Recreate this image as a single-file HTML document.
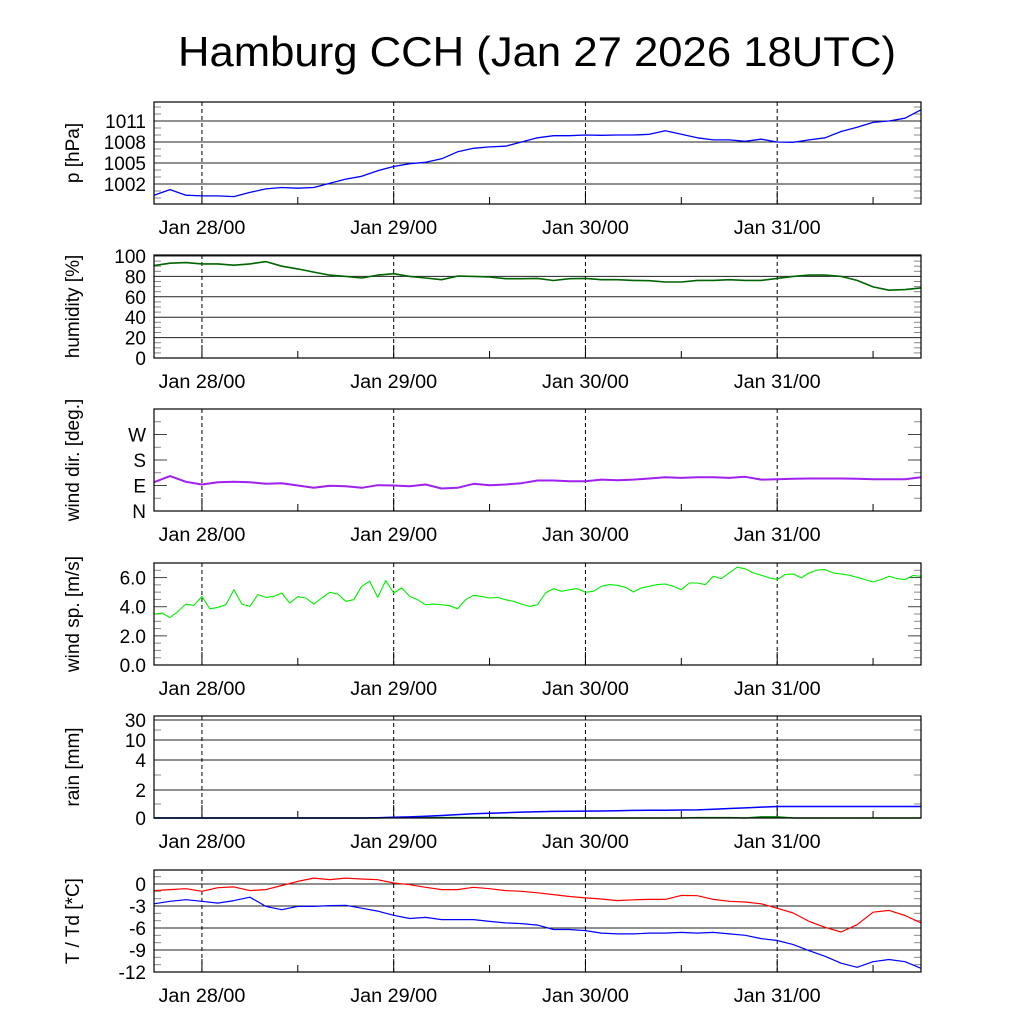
<!DOCTYPE html>
<html><head><meta charset="utf-8"><style>
html,body{margin:0;padding:0;background:#fff;}
svg{display:block;font-family:"Liberation Sans",sans-serif;}
</style></head><body>
<svg id="chart" width="1024" height="1024" viewBox="0 0 1024 1024" xmlns="http://www.w3.org/2000/svg">
<rect width="1024" height="1024" fill="#fff"/>
<text x="537" y="66" font-size="42" text-anchor="middle" textLength="718" lengthAdjust="spacingAndGlyphs">Hamburg CCH (Jan 27 2026 18UTC)</text>
</svg>
<script>
// hours since Jan 27 18UTC; 2-hourly series
const dayLabels = ["Jan 28/00","Jan 29/00","Jan 30/00","Jan 31/00"];
const dayHours = [6,30,54,78];
const pressure = [1000.4,1001.2,1000.4,1000.3,1000.3,1000.2,1000.8,1001.3,1001.5,1001.4,1001.5,1002.1,1002.7,1003.1,1003.9,1004.5,1004.9,1005.1,1005.6,1006.6,1007.1,1007.3,1007.4,1008.0,1008.6,1008.9,1008.9,1009.0,1008.95,1009.0,1009.0,1009.1,1009.6,1009.1,1008.6,1008.3,1008.3,1008.1,1008.4,1008.0,1007.95,1008.3,1008.6,1009.5,1010.1,1010.8,1011.0,1011.4,1012.6];
const humidity = [90.6,92.9,93.5,92.3,92.3,91,92.3,94.5,90,87.4,84.2,81.3,80,78.4,81.3,82.6,80,78.4,76.8,80.3,80,79.4,77.7,77.7,78,76,77.7,78,76.8,76.8,76.1,75.8,74.5,74.5,76.1,76.1,76.8,76.1,76.1,78,80,81.3,81.3,80,76.1,69.7,66.5,67.1,68.7];
const windDir = [101.8,123,103,93.5,101.8,103,101.8,96,98,90,81.8,88.8,87.6,81.8,91,90,87.6,93.5,79.4,81.8,96,91,93.5,98,107.6,107.6,105.3,105.3,111,108.8,111,114.7,119.4,117,119.4,119.4,117,120.6,111,112.3,113.5,114.7,114.7,114.7,113.5,112.3,112.3,112.3,119.4];
// hourly wind speed
const windSpeed = [3.49,3.56,3.26,3.68,4.18,4.09,4.71,3.86,3.95,4.14,5.17,4.18,4.02,4.83,4.64,4.71,4.94,4.25,4.69,4.6,4.18,4.6,4.99,4.87,4.37,4.48,5.4,5.75,4.64,5.79,4.94,5.29,4.71,4.48,4.14,4.18,4.14,4.07,3.86,4.48,4.78,4.71,4.6,4.64,4.48,4.37,4.18,4.02,4.14,4.94,5.24,5.06,5.17,5.24,4.99,5.06,5.4,5.52,5.47,5.33,5.01,5.29,5.4,5.52,5.56,5.4,5.17,5.63,5.63,5.52,6.09,5.93,6.32,6.71,6.6,6.32,6.16,5.98,5.86,6.21,6.25,5.98,6.32,6.51,6.55,6.32,6.25,6.16,6.02,5.86,5.7,5.86,6.09,5.93,5.86,6.14,6.09];
const rainSum = [0,0,0,0,0,0,0,0,0,0,0,0,0,0,0.02,0.05,0.08,0.12,0.18,0.24,0.3,0.34,0.38,0.42,0.45,0.47,0.48,0.49,0.5,0.52,0.54,0.55,0.56,0.57,0.58,0.63,0.68,0.72,0.78,0.82,0.82,0.82,0.82,0.82,0.82,0.82,0.82,0.82,0.82];
const rainRate = [0,0,0,0,0,0,0,0,0,0,0,0,0,0,0,0.03,0.03,0.03,0.03,0.03,0.03,0.03,0.03,0,0,0,0,0,0,0,0,0,0,0,0.03,0.03,0.03,0,0.08,0.08,0,0,0,0,0,0,0,0,0];
const temp = [-0.9,-0.77,-0.64,-1.0,-0.5,-0.4,-0.9,-0.77,-0.2,0.36,0.8,0.6,0.8,0.68,0.59,0.14,-0.1,-0.45,-0.77,-0.77,-0.45,-0.64,-0.9,-1.0,-1.2,-1.45,-1.7,-1.9,-2.05,-2.27,-2.15,-2.1,-2.1,-1.55,-1.6,-2.1,-2.36,-2.45,-2.7,-3.3,-3.95,-5.1,-5.9,-6.55,-5.55,-3.85,-3.6,-4.3,-5.3];
const dewpoint = [-2.7,-2.36,-2.14,-2.36,-2.6,-2.27,-1.8,-3.05,-3.5,-3.05,-3.05,-2.95,-2.9,-3.3,-3.7,-4.27,-4.7,-4.55,-4.86,-4.86,-4.86,-5.1,-5.3,-5.4,-5.6,-6.2,-6.2,-6.36,-6.7,-6.8,-6.8,-6.7,-6.7,-6.6,-6.7,-6.6,-6.8,-7.0,-7.45,-7.7,-8.27,-9.1,-9.86,-10.8,-11.36,-10.6,-10.3,-10.6,-11.5];

const NS="http://www.w3.org/2000/svg";
const svg=document.getElementById('chart');
const X0=154,X1=921,HOURS=96;
const xs=h=>X0+(X1-X0)*h/HOURS;
function el(tag,attrs,parent){const e=document.createElementNS(NS,tag);for(const k in attrs)e.setAttribute(k,attrs[k]);(parent||svg).appendChild(e);return e;}
function lin(v0,v1,y0,y1){return v=>y0+(v-v0)*(y1-y0)/(v1-v0);}
function pwl(vals,ys){return v=>{for(let i=0;i<vals.length-1;i++){if(v<=vals[i+1]||i==vals.length-2){return ys[i]+(v-vals[i])*(ys[i+1]-ys[i])/(vals[i+1]-vals[i]);}}};}

const panels=[
 {name:'pressure',top:102,bot:204,y:lin(1002,1011,184,121),title:'p [hPa]',labels:[[1002,'1002'],[1005,'1005'],[1008,'1008'],[1011,'1011']],grid:[1002,1005,1008,1011],minor:[1000,1001,1003,1004,1006,1007,1009,1010,1012,1013]},
 {name:'humidity',top:255,bot:358,y:lin(0,100,358,256),title:'humidity [%]',labels:[[0,'0'],[20,'20'],[40,'40'],[60,'60'],[80,'80'],[100,'100']],grid:[20,40,60,80,100],minor:[5,10,15,25,30,35,45,50,55,65,70,75,85,90,95]},
 {name:'wind-direction',top:409,bot:511,y:lin(0,360,511,409),title:'wind dir. [deg.]',labels:[[0,'N'],[90,'E'],[180,'S'],[270,'W']],grid:[],ticks:[90,180,270],minor:[45,135,225,315]},
 {name:'wind-speed',top:563,bot:665,y:lin(0,7,665,563),title:'wind sp. [m/s]',labels:[[0,'0.0'],[2,'2.0'],[4,'4.0'],[6,'6.0']],grid:[],ticks:[2,4,6],minor:[0.5,1,1.5,2.5,3,3.5,4.5,5,5.5,6.5]},
 {name:'rain',top:716,bot:818,y:pwl([0,2,4,10,30,40],[818,790,760,740,720,716]),title:'rain [mm]',labels:[[0,'0'],[2,'2'],[4,'4'],[10,'10'],[30,'30']],grid:[2,4,10,30],minor:[1,3,20]},
 {name:'temperature',top:870,bot:972,y:lin(0,-12,884,972),title:'T / Td [*C]',labels:[[0,'0'],[-3,'-3'],[-6,'-6'],[-9,'-9'],[-12,'-12']],grid:[0,-3,-6,-9],minor:[1,-1,-2,-4,-5,-7,-8,-10,-11]}
];

panels.forEach(p=>{
 const g=el('g',{});
 
 
 p.grid.forEach(v=>{const y=p.y(v);const l=el('line',{x1:X0,x2:X1,y1:y,y2:y,stroke:'#222','stroke-width':1},g);
  });
 (p.ticks||[]).forEach(v=>{const y=p.y(v);[[X0,X0+13],[X1-13,X1]].forEach(a=>{const l=el('line',{x1:a[0],x2:a[1],y1:y,y2:y,stroke:'#444','stroke-width':1},g);
  });});
 p.minor.forEach(v=>{const y=p.y(v);if(y<p.top||y>p.bot)return;[[X0,X0+7],[X1-7,X1]].forEach(a=>{const l=el('line',{x1:a[0],x2:a[1],y1:y,y2:y,stroke:'#888','stroke-width':1},g);
  });});
 dayHours.forEach((h,i)=>{const x=xs(h);
  const d=el('line',{x1:x,x2:x,y1:p.top,y2:p.bot,stroke:'#000','stroke-width':1,'stroke-dasharray':'4,3'},g);
  
  const t=el('line',{x1:x,x2:x,y1:p.bot-13,y2:p.bot,stroke:'#000','stroke-width':1},g);
  
  const lab=el('text',{x:x,y:p.bot+30,'font-size':19,'text-anchor':'middle',textLength:87,lengthAdjust:'spacingAndGlyphs'},g);lab.textContent=dayLabels[i];
  
  const m=xs(h+12);if(m<X1){const mt=el('line',{x1:m,x2:m,y1:p.bot-7,y2:p.bot,stroke:'#000','stroke-width':1},g);
  }
 });
 p.labels.forEach(a=>{const t=el('text',{x:146,y:p.y(a[0])+7,'font-size':19,'text-anchor':'end'},g);t.textContent=a[1];
  });
 const cy=(p.top+p.bot)/2;
 const tt=el('text',{x:0,y:0,'font-size':19,'text-anchor':'middle',transform:`translate(79,${cy}) rotate(-90)`},g);tt.textContent=p.title;
 
 p.g=g;
});

function series(p,vals,step,color,name,w){
 const pts=vals.map((v,i)=>xs(i*step).toFixed(1)+','+p.y(v).toFixed(1)).join(' ');
 const l=el('polyline',{points:pts,fill:'none',stroke:color,'stroke-width':w||1.3,'stroke-linejoin':'round'},p.g);
 
 
}
series(panels[0],pressure,2,'#0000ff','pressure-line');
series(panels[1],humidity,2,'#006400','humidity-line',1.6);
series(panels[2],windDir,2,'#a020f0','wind-direction-line',2);
series(panels[3],windSpeed,1,'#00ee00','wind-speed-line',1.1);
series(panels[4],rainRate,2,'#008800','rain-rate-line',1.5);
series(panels[4],rainSum,2,'#0000ff','rain-sum-line',1.5);
series(panels[5],temp,2,'#ff0000','temperature-line',1.2);
series(panels[5],dewpoint,2,'#0000ff','dewpoint-line',1.2);

panels.forEach(p=>{const r=el('rect',{x:X0,y:p.top,width:X1-X0,height:p.bot-p.top,fill:'none',stroke:'#000','stroke-width':1.2},p.g);
 });
</script>
</body></html>
